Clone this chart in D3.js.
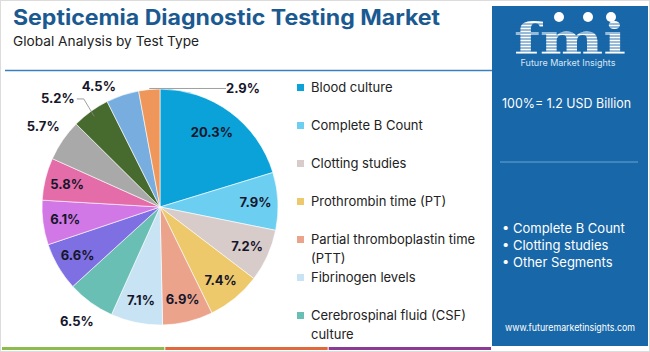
<!DOCTYPE html>
<html>
<head>
<meta charset="utf-8">
<script src="https://cdn.jsdelivr.net/npm/d3@7"></script>
<style>
  body { margin: 0; background: #fff; }
  svg { display: block; font-family: Inter, "Open Sans", sans-serif; }
</style>
</head>
<body>
<div id="chart"></div>
<script>
// data, clockwise from 12 o'clock
const testTypes = [
    "Blood culture", "Complete B Count", "Clotting studies", "Prothrombin time (PT)",
    "Partial thromboplastin time (PTT)", "Fibrinogen levels", "Cerebrospinal fluid (CSF) culture",
    "Procalcitonin", "C-reactive protein", "Lactate", "Urine culture",
    "Sputum culture", "Wound culture", "Other tests"
];
const shares = [20.3, 7.9, 7.2, 7.4, 6.9, 7.1, 6.5, 6.6, 6.1, 5.8, 5.7, 5.2, 4.5, 2.9];
const sliceColors = [
    "#0aa2d9", "#6ccff2", "#d8cccb", "#eec96b", "#eba38c", "#c7e3f4", "#6abfb5",
    "#7e6fe3", "#d178e6", "#e46ca8", "#a9a9a9", "#476a2f", "#78aedf", "#ef965a"
];
// labels placed outside the pie in the reference
const outsideLabels = ["Cerebrospinal fluid (CSF) culture", "Urine culture", "Sputum culture", "Wound culture", "Other tests"];
const marketSize = "100%= 1.2 USD Billion";
const panelBullets = ["Complete B Count", "Clotting studies", "Other Segments"];

const width = 650, height = 352;
const svg = d3.select("#chart").append("svg")
    .attr("width", width)
    .attr("height", height);

// outer frame
svg.append("rect")
    .attr("x", 0.5).attr("y", 0.5)
    .attr("width", width - 1).attr("height", height - 1)
    .attr("fill", "#fff")
    .attr("stroke", "#dcdcdc");

// title block
svg.append("text")
    .attr("x", 13).attr("y", 25)
    .attr("font-size", 21)
    .attr("font-weight", 700)
    .attr("fill", "#1b5a91")
    .attr("textLength", 427)
    .attr("lengthAdjust", "spacingAndGlyphs")
    .text("Septicemia Diagnostic Testing Market");

svg.append("text")
    .attr("x", 13).attr("y", 46)
    .attr("font-size", 13.5)
    .attr("fill", "#222")
    .attr("textLength", 186)
    .attr("lengthAdjust", "spacingAndGlyphs")
    .text("Global Analysis by Test Type");

svg.append("line")
    .attr("x1", 5).attr("x2", 492)
    .attr("y1", 70.5).attr("y2", 70.5)
    .attr("stroke", "#3c7fbd")
    .attr("stroke-width", 1.5);

// bottom colour strip
const stripColors = ["#8dbb4c", "#e1683a", "#8c3a92"];
const stripScale = d3.scaleBand().domain(d3.range(stripColors.length)).range([2, 492]);
svg.selectAll(".strip")
    .data(stripColors)
    .enter()
    .append("rect")
    .attr("class", "strip")
    .attr("x", (d, i) => stripScale(i))
    .attr("y", 347)
    .attr("width", stripScale.bandwidth() - 1)
    .attr("height", 3)
    .attr("fill", d => d);

// pie
const cx = 160, cy = 207, radius = 118;
const pieData = testTypes.map((name, i) => ({ name: name, value: shares[i], color: sliceColors[i] }));
const pie = d3.pie().value(d => d.value).sort(null);
const arcs = pie(pieData);
const arc = d3.arc().innerRadius(0).outerRadius(radius);
const inArc = d3.arc().innerRadius(radius * 0.81).outerRadius(radius * 0.81);
const outArc = d3.arc().innerRadius(radius * 1.2).outerRadius(radius * 1.2);
const midAngle = d => (d.startAngle + d.endAngle) / 2;
const polar = (a, r) => [r * Math.sin(a), -r * Math.cos(a)];

const pieG = svg.append("g").attr("transform", `translate(${cx},${cy})`);

pieG.selectAll(".slice")
    .data(arcs)
    .enter()
    .append("path")
    .attr("class", "slice")
    .attr("d", arc)
    .attr("fill", d => d.data.color)
    .attr("stroke", "#fff")
    .attr("stroke-width", 0.6);

// leader line for the thin slice at the top
const lastArc = arcs[arcs.length - 1];
const topAngle = midAngle(lastArc);
const topY = -radius * Math.cos(topAngle) - 1;
pieG.append("polyline")
    .attr("points", [[radius * Math.sin(topAngle), topY], [66, topY]].join(" "))
    .attr("fill", "none")
    .attr("stroke", "#888")
    .attr("stroke-width", 0.8);

// leader line for the dark green slice
const wound = arcs[arcs.length - 3];
const wAng = midAngle(wound);
const wStart = polar(wAng, radius * 0.95);
const wElbow = polar(wAng, radius * 1.1);
wElbow[1] -= 3;
pieG.append("polyline")
    .attr("points", [wStart, wElbow, [wElbow[0] - 7, wElbow[1]]].join(" "))
    .attr("fill", "none")
    .attr("stroke", "#888")
    .attr("stroke-width", 0.8);

pieG.selectAll(".pct")
    .data(arcs)
    .enter()
    .append("text")
    .attr("class", "pct")
    .attr("transform", (d, i) => {
        if (i === arcs.length - 1) return `translate(83,${topY})`;
        if (i === arcs.length - 3) return `translate(${wElbow[0] - 26},${wElbow[1] - 1})`;
        if (i === arcs.length - 2) {
            const q = polar(midAngle(d), radius * 1.1);
            return `translate(${q[0] - 20},${q[1] + 3})`;
        }
        const isOut = outsideLabels.includes(d.data.name);
        const p = isOut ? outArc.centroid(d) : inArc.centroid(d);
        if (i === 0) return `translate(${p[0] - 5},${p[1] + 2})`;
        return `translate(${p[0]},${p[1]})`;
    })
    .attr("dy", "0.35em")
    .attr("text-anchor", "middle")
    .attr("font-size", 13)
    .attr("font-weight", 700)
    .attr("fill", "#16162a")
    .text(d => d.value.toFixed(1) + "%");

// legend: only the entries that fit above the bottom strip are visible
const legendY = d3.scaleLinear().domain([0, 1]).range([87, 125]);
const shownLegend = pieData.filter((d, i) => legendY(i) < 330);

const legendItems = svg.selectAll(".legend-item")
    .data(shownLegend)
    .enter()
    .append("g")
    .attr("class", "legend-item")
    .attr("transform", (d, i) => `translate(297,${legendY(i)})`);

legendItems.append("rect")
    .attr("x", 0).attr("y", -3)
    .attr("width", 7).attr("height", 7)
    .attr("fill", d => d.color);

legendItems.append("text")
    .attr("x", 14)
    .attr("font-size", 13)
    .attr("fill", "#222")
    .each(function (d) {
        const t = d3.select(this);
        // wrap long names like the original layout
        const words = d.name.split(" ");
        let line = [];
        let lines = [];
        words.forEach(w => {
            line.push(w);
            if (line.join(" ").length > 27) {
                line.pop();
                lines.push(line.join(" "));
                line = [w];
            }
        });
        lines.push(line.join(" "));
        lines.forEach((l, k) => {
            t.append("tspan").attr("x", 14).attr("dy", k === 0 ? "0.35em" : 19).text(l);
        });
    });

// right info panel
const panel = svg.append("g");
panel.append("rect")
    .attr("x", 492).attr("y", 6)
    .attr("width", 156).attr("height", 340)
    .attr("fill", "#1867a8");

// logo
const logo = panel.append("g");
logo.append("text")
    .attr("x", 570).attr("y", 54)
    .attr("text-anchor", "middle")
    .attr("font-family", "'DejaVu Serif', serif")
    .attr("font-weight", 700)
    .attr("font-size", 42)
    .attr("fill", "#fff")
    .attr("textLength", 112)
    .attr("lengthAdjust", "spacingAndGlyphs")
    .text("fmi");
d3.range(24, 55, 3).forEach(y => {
    logo.append("line")
        .attr("x1", 510).attr("x2", 630)
        .attr("y1", y).attr("y2", y)
        .attr("stroke", "#1867a8")
        .attr("stroke-width", 0.9);
});
[[559, 17], [588, 17], [611, 17]].forEach(p => {
    logo.append("circle")
        .attr("cx", p[0]).attr("cy", p[1]).attr("r", 5)
        .attr("fill", "#fff");
});
logo.append("text")
    .attr("x", 568).attr("y", 66)
    .attr("text-anchor", "middle")
    .attr("font-size", 9)
    .attr("fill", "#d6e6f5")
    .text("Future Market Insights");

panel.append("text")
    .attr("x", 502).attr("y", 108)
    .attr("font-size", 13.5)
    .attr("fill", "#fff")
    .attr("textLength", 129)
    .attr("lengthAdjust", "spacingAndGlyphs")
    .text(marketSize);

panel.append("line")
    .attr("x1", 500).attr("x2", 638)
    .attr("y1", 162).attr("y2", 162)
    .attr("stroke", "#6ba3d6")
    .attr("stroke-width", 1.2);

panel.selectAll(".bullet")
    .data(panelBullets)
    .enter()
    .append("text")
    .attr("class", "bullet")
    .attr("x", 502)
    .attr("y", (d, i) => 233 + i * 17)
    .attr("font-size", 13)
    .attr("fill", "#fff")
    .text(d => "• " + d);

panel.append("text")
    .attr("x", 570).attr("y", 331)
    .attr("text-anchor", "middle")
    .attr("font-size", 9.5)
    .attr("fill", "#fff")
    .attr("textLength", 130)
    .attr("lengthAdjust", "spacingAndGlyphs")
    .text("www.futuremarketinsights.com");
</script>
</body>
</html>
